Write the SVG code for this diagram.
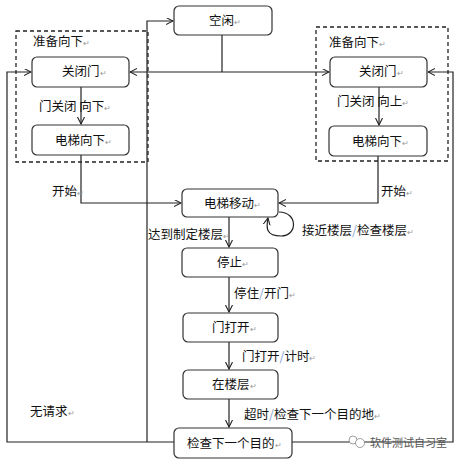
<svg xmlns="http://www.w3.org/2000/svg" width="460" height="462" viewBox="0 0 460 462">
<style>
.box{fill:#fff;stroke:#333;stroke-width:1.2}
.ln{fill:none;stroke:#222;stroke-width:1.2}
.dash{fill:none;stroke:#222;stroke-width:1.3;stroke-dasharray:4 3}
text{font-family:"Noto Sans CJK SC","Noto Sans",sans-serif;font-size:12.5px;fill:#111}
.r{fill:#999;font-size:8px}
.s{fill:#7f9fd0}
.logo{font-size:11px;fill:#555}
</style>
<defs>
<marker id="a" markerWidth="8" markerHeight="8" refX="7" refY="3.5" orient="auto" markerUnits="userSpaceOnUse">
<path d="M0,0 L7,3.5 L0,7" fill="none" stroke="#222" stroke-width="1.1"/>
</marker>
</defs>
<rect width="460" height="462" fill="#fff"/>
<g id="groups">
<rect class="dash" x="16" y="31" width="132" height="131"/>
<text x="33" y="46">准备向下<tspan class="r">↵</tspan></text>
<rect class="dash" x="316" y="27" width="132" height="134"/>
<text x="329" y="47">准备向下<tspan class="r">↵</tspan></text>
</g>
<g id="connectors">
<path class="ln" d="M222,35 V72"/>
<path class="ln" d="M222,72 H130" marker-end="url(#a)"/>
<path class="ln" d="M222,72 H329" marker-end="url(#a)"/>
<path class="ln" d="M174,442 H7 V72 H31" marker-end="url(#a)"/>
<path class="ln" d="M147,442 V21 H173" marker-end="url(#a)"/>
<path class="ln" d="M292,442 H453 V72 H428" marker-end="url(#a)"/>
<path class="ln" d="M81,87 V124" marker-end="url(#a)"/>
<path class="ln" d="M379,87 V125" marker-end="url(#a)"/>
<path class="ln" d="M81,155 V203 H181" marker-end="url(#a)"/>
<path class="ln" d="M378,156 V203 H279" marker-end="url(#a)"/>
<path class="ln" d="M279,212 C298,212 298,236 281,236 C266,236 266,228 268,218" marker-end="url(#a)"/>
<path class="ln" d="M229,217 V247" marker-end="url(#a)"/>
<path class="ln" d="M229,277 V312" marker-end="url(#a)"/>
<path class="ln" d="M229,342 V369" marker-end="url(#a)"/>
<path class="ln" d="M229,399 V427" marker-end="url(#a)"/>
</g>
<g id="labels">
<text x="39" y="111">门关闭 向下<tspan class="r">↵</tspan></text>
<text x="337" y="106">门关闭 向上<tspan class="r">↵</tspan></text>
<text x="52" y="196">开始<tspan class="r">↵</tspan></text>
<text x="381" y="196">开始<tspan class="r">↵</tspan></text>
<text x="302" y="235">接近楼层<tspan class="s">/</tspan>检查楼层<tspan class="r">↵</tspan></text>
<text x="148" y="239">达到制定楼层<tspan class="r">↵</tspan></text>
<text x="234" y="298">停住<tspan class="s">/</tspan>开门<tspan class="r">↵</tspan></text>
<text x="242" y="361">门打开<tspan class="s">/</tspan>计时<tspan class="r">↵</tspan></text>
<text x="244" y="419">超时<tspan class="s">/</tspan>检查下一个目的地<tspan class="r">↵</tspan></text>
<text x="30" y="416">无请求<tspan class="r">↵</tspan></text>
</g>
<g id="idle"><rect class="box" x="174" y="6" width="98" height="29" rx="5"/><text x="209" y="25">空闲<tspan class="r">↵</tspan></text></g>
<g id="close-left"><rect class="box" x="32" y="57" width="97" height="30" rx="5"/><text x="62" y="76">关闭门<tspan class="r">↵</tspan></text></g>
<g id="down-left"><rect class="box" x="32" y="125" width="97" height="30" rx="5"/><text x="55" y="145">电梯向下<tspan class="r">↵</tspan></text></g>
<g id="close-right"><rect class="box" x="330" y="57" width="97" height="30" rx="5"/><text x="359" y="76">关闭门<tspan class="r">↵</tspan></text></g>
<g id="down-right"><rect class="box" x="329" y="126" width="98" height="30" rx="5"/><text x="352" y="146">电梯向下<tspan class="r">↵</tspan></text></g>
<g id="moving"><rect class="box" x="182" y="189" width="96" height="28" rx="5"/><text x="204" y="208">电梯移动<tspan class="r">↵</tspan></text></g>
<g id="stop"><rect class="box" x="182" y="248" width="96" height="29" rx="5"/><text x="217" y="267">停止<tspan class="r">↵</tspan></text></g>
<g id="door-open"><rect class="box" x="183" y="313" width="95" height="29" rx="5"/><text x="212" y="332">门打开<tspan class="r">↵</tspan></text></g>
<g id="at-floor"><rect class="box" x="183" y="370" width="95" height="29" rx="5"/><text x="212" y="389">在楼层<tspan class="r">↵</tspan></text></g>
<g id="check-next"><rect class="box" x="174" y="428" width="118" height="30" rx="5"/><text x="187" y="448">检查下一个目的<tspan class="r">↵</tspan></text></g>
<g id="logo">
<circle cx="353" cy="440" r="4" fill="#fff" stroke="#888" stroke-width="0.8"/>
<circle cx="360" cy="443" r="4.5" fill="#fff" stroke="#888" stroke-width="0.8"/>
<text class="logo" x="370" y="447">软件测试自习室</text>
</g>
</svg>
